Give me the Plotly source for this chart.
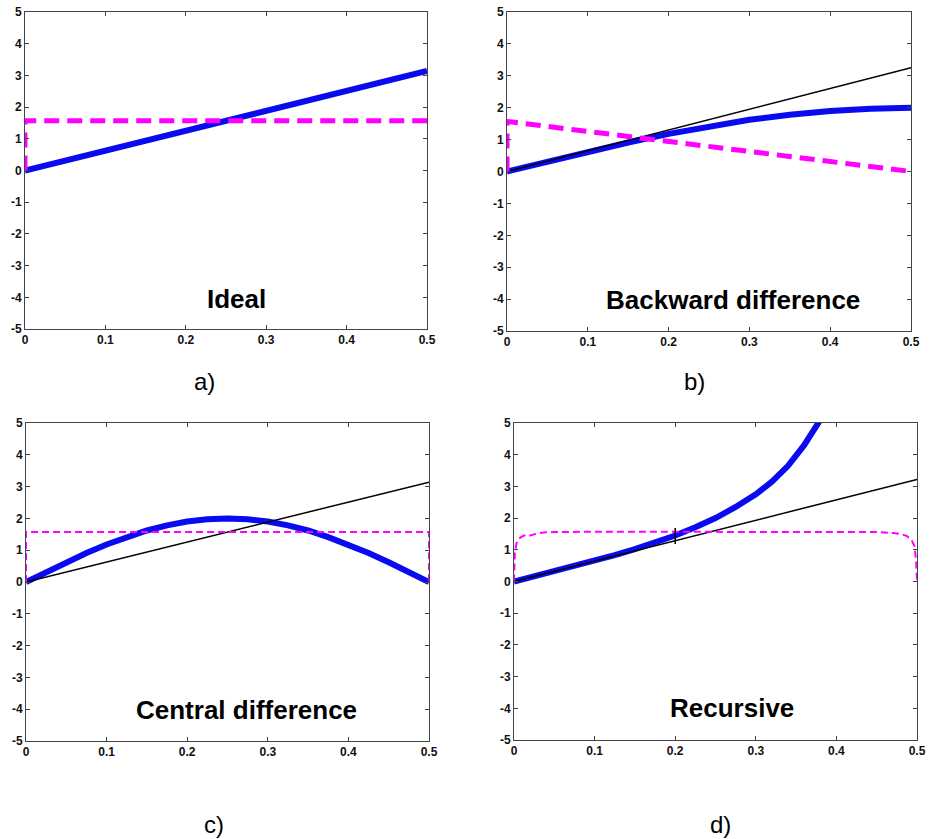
import plotly.graph_objects as go

W, H = 930, 839

# ---------------- data ----------------
# a) Ideal
ideal_f = [0.0, 0.5]
ideal_mag = [0.0, 3.14]
ideal_ph_f = [0.0, 0.0, 0.5]
ideal_ph = [0.0, 1.57, 1.57]

# b) Backward difference
bd_f = [0.0, 0.05, 0.1, 0.15, 0.2, 0.25, 0.3, 0.35, 0.4, 0.45, 0.5]
bd_mag = [0.0, 0.31, 0.62, 0.91, 1.18, 1.41, 1.62, 1.78, 1.90, 1.97, 2.0]
bd_ref_f = [0.0, 0.5]
bd_ref = [0.0, 3.25]
bd_ph_f = [0.0, 0.0, 0.5]
bd_ph = [0.0, 1.57, 0.0]

# c) Central difference
cd_f = [0.0, 0.025, 0.05, 0.075, 0.1, 0.125, 0.15, 0.175, 0.2, 0.225, 0.25,
        0.275, 0.3, 0.325, 0.35, 0.375, 0.4, 0.425, 0.45, 0.475, 0.5]
cd_mag = [0.0, 0.31, 0.62, 0.91, 1.18, 1.41, 1.62, 1.78, 1.90, 1.97, 2.0,
          1.97, 1.90, 1.78, 1.62, 1.41, 1.18, 0.91, 0.62, 0.31, 0.0]
cd_ref_f = [0.0, 0.5]
cd_ref = [0.0, 3.14]
cd_ph_f = [0.0, 0.0, 0.5, 0.5]
cd_ph = [0.0, 1.57, 1.57, 0.0]

# d) Recursive
rc_f = [0.0, 0.025, 0.05, 0.075, 0.1, 0.125, 0.15, 0.175, 0.2, 0.225, 0.25,
        0.275, 0.3, 0.32, 0.34, 0.36, 0.37, 0.38, 0.39]
rc_mag = [0.0, 0.16, 0.32, 0.48, 0.65, 0.83, 1.02, 1.23, 1.45, 1.71, 2.0,
          2.35, 2.75, 3.15, 3.65, 4.30, 4.70, 5.05, 5.50]
rc_ref_f = [0.0, 0.5]
rc_ref = [0.0, 3.22]
rc_ph_f = [0.0, 0.001, 0.003, 0.006, 0.01, 0.015, 0.02, 0.025, 0.03, 0.04, 0.05,
           0.1, 0.2, 0.3, 0.4, 0.45, 0.47, 0.48, 0.487, 0.493, 0.497, 0.499, 0.5]
rc_ph = [0.0, 0.9, 1.2, 1.35, 1.42, 1.47, 1.45, 1.48, 1.52, 1.55, 1.56,
         1.57, 1.57, 1.57, 1.57, 1.56, 1.53, 1.50, 1.44, 1.33, 1.1, 0.6, 0.0]
rc_mark_f = [0.2, 0.2]
rc_mark = [1.18, 1.69]

titles = ["Ideal", "Backward difference", "Central difference", "Recursive"]
panel_labels = ["a)", "b)", "c)", "d)"]

x_tickvals = [0, 0.1, 0.2, 0.3, 0.4, 0.5]
x_ticktext = ["0", "0.1", "0.2", "0.3", "0.4", "0.5"]
y_tickvals = [-5, -4, -3, -2, -1, 0, 1, 2, 3, 4, 5]
y_ticktext = ["-5", "-4", "-3", "-2", "-1", "0", "1", "2", "3", "4", "5"]

# ---------------- styling / layout ----------------
BLUE = "#0A0AF0"
MAG = "#FF00FF"
BLACK = "#000000"

# pixel boxes of each plot area: (left, right, top, bottom)
boxes = [(25, 427, 12, 329), (507, 911, 12, 331),
         (26, 429, 423, 741), (514, 917, 423, 740)]

fig = go.Figure()

def add(i, x, y, color, width, dash=None):
    ax = "" if i == 0 else str(i + 1)
    fig.add_trace(go.Scatter(
        x=x, y=y, mode="lines", xaxis="x" + ax, yaxis="y" + ax,
        line=dict(color=color, width=width, dash=dash),
        showlegend=False, hoverinfo="skip"))

THICK_DASH = "15px,8px"
THIN_DASH = "7px,4px"

# a
add(0, ideal_f, ideal_mag, BLUE, 6)
add(0, ideal_ph_f, ideal_ph, MAG, 5, THICK_DASH)
# b
add(1, bd_f, bd_mag, BLUE, 6)
add(1, bd_ref_f, bd_ref, BLACK, 1.5)
add(1, bd_ph_f, bd_ph, MAG, 5, THICK_DASH)
# c
add(2, cd_f, cd_mag, BLUE, 6)
add(2, cd_ref_f, cd_ref, BLACK, 1.5)
add(2, cd_ph_f, cd_ph, MAG, 2, THIN_DASH)
# d
add(3, rc_f, rc_mag, BLUE, 6)
add(3, rc_ref_f, rc_ref, BLACK, 1.5)
add(3, rc_ph_f, rc_ph, MAG, 2, THIN_DASH)
add(3, rc_mark_f, rc_mark, BLACK, 1.5)

tickfont = dict(family="Liberation Sans", size=12, color="#111111")
layout = dict(width=W, height=H, margin=dict(l=0, r=0, t=0, b=0),
              template="none",
              paper_bgcolor="white", plot_bgcolor="white", showlegend=False)

for i, (l, r, t, b) in enumerate(boxes):
    ax = "" if i == 0 else str(i + 1)
    xd = [l / W, r / W]
    yd = [1 - b / H, 1 - t / H]
    common = dict(showline=True, linecolor="#444444", linewidth=1, mirror="allticks",
                  ticks="inside", ticklen=4, tickcolor="#444444", showgrid=False,
                  zeroline=False, tickfont=tickfont, fixedrange=True, automargin=False)
    layout["xaxis" + ax] = dict(domain=xd, range=[0, 0.5], tickvals=x_tickvals,
                                ticktext=[f"<b>{s}</b>" for s in x_ticktext],
                                anchor="y" + ax, **common)
    layout["yaxis" + ax] = dict(domain=yd, range=[-5, 5], tickvals=y_tickvals,
                                ticktext=[f"<b>{s}</b>" for s in y_ticktext],
                                anchor="x" + ax, **common)

fig.update_layout(**layout)

title_pos = [(237, 299), (733, 300), (246, 710), (732, 708)]
for txt, (px, py) in zip(titles, title_pos):
    fig.add_annotation(text=f"<b>{txt}</b>", x=px / W, y=1 - py / H, xref="paper",
                       yref="paper", showarrow=False, xanchor="center", yanchor="middle",
                       font=dict(family="Liberation Sans", size=26, color="black"))

# panel letters: (center x, bottom y) in page pixels
label_pos = [(204, 396), (694, 396), (214, 839), (720, 839)]
for txt, (px, py) in zip(panel_labels, label_pos):
    fig.add_annotation(text=txt, x=px / W, y=1 - py / H, xref="paper",
                       yref="paper", showarrow=False, xanchor="center", yanchor="bottom",
                       borderpad=0, font=dict(family="Liberation Sans", size=24, color="black"))

fig.write_html("out.html", config={"displayModeBar": False},
               post_script="document.body.style.margin='0';document.body.style.overflow='hidden';")
